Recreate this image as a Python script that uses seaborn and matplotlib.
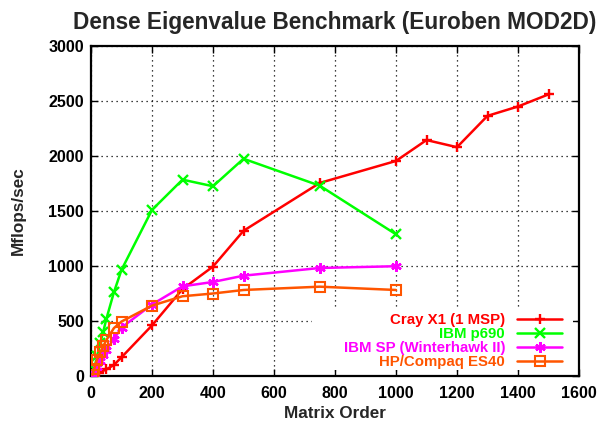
import matplotlib
matplotlib.use("Agg")
import matplotlib.pyplot as plt
from matplotlib.patches import Rectangle
import seaborn as sns
import pandas as pd

# ---- data ----
cray_x = [10, 25, 50, 75, 100, 200, 300, 400, 500, 750, 1000, 1100, 1200, 1300, 1400, 1500]
cray_y = [8, 28, 60, 100, 170, 460, 790, 995, 1320, 1755, 1955, 2145, 2080, 2365, 2450, 2560]

p690_x = [10, 20, 30, 40, 50, 75, 100, 200, 300, 400, 500, 750, 1000]
p690_y = [60, 180, 300, 400, 515, 760, 965, 1510, 1785, 1725, 1975, 1730, 1288]

sp_x = [10, 20, 30, 40, 50, 75, 100, 200, 300, 400, 500, 750, 1000]
sp_y = [20, 80, 140, 190, 240, 335, 440, 650, 815, 855, 912, 982, 998]

es40_x = [5, 10, 20, 30, 40, 50, 75, 100, 200, 300, 400, 500, 750, 1000]
es40_y = [10, 60, 150, 215, 270, 325, 435, 495, 640, 725, 750, 782, 812, 782]

series_names = ["Cray X1 (1 MSP)", "IBM p690", "IBM SP (Winterhawk II)", "HP/Compaq ES40"]
title = "Dense Eigenvalue Benchmark (Euroben MOD2D)"
xlabel = "Matrix Order"
ylabel = "Mflops/sec"
xticks = [0, 200, 400, 600, 800, 1000, 1200, 1400, 1600]
yticks = [0, 500, 1000, 1500, 2000, 2500, 3000]

# ---- style ----
sns.set_theme(style="white")
plt.rcParams["font.family"] = ["Liberation Sans", "DejaVu Sans"]
plt.rcParams["font.weight"] = "bold"

colors = ["#ff0000", "#00ff00", "#ff00ff", "#ff5500"]
markers = ["+", "x", (6, 2, 0), "s"]

W, H = 600, 421
L, R, B, T = 91, 579, 376, 46
fig = plt.figure(figsize=(W / 100, H / 100), dpi=100)
ax = fig.add_axes([L / W, 1 - B / H, (R - L) / W, (B - T) / H])

data = [(cray_x, cray_y), (p690_x, p690_y), (sp_x, sp_y), (es40_x, es40_y)]
for (xs, ys), name, c, m in zip(data, series_names, colors, markers):
    df = pd.DataFrame({"x": xs, "y": ys})
    kws = dict(markeredgecolor=c, markeredgewidth=1.7, markersize=7.5)
    if m == "s":
        kws.update(markerfacecolor="none", markersize=6.5, markeredgewidth=1.5)
    sns.lineplot(data=df, x="x", y="y", ax=ax, color=c, marker=m,
                 linewidth=1.8, label=name, zorder=3, **kws)

ax.set_xlim(0, 1600)
ax.set_ylim(0, 3000)
ax.set_xticks(xticks)
ax.set_yticks(yticks)
ax.set_xticklabels([str(t) for t in xticks], fontsize=11.5, fontweight="bold")
ax.set_yticklabels([str(t) for t in yticks], fontsize=11.5, fontweight="bold")
ax.tick_params(direction="in", length=5, width=1, top=True, right=True,
               bottom=True, left=True, colors="black")
ax.tick_params(axis="x", pad=7)
ax.tick_params(axis="y", pad=5)
ax.grid(True, linestyle=(0, (1, 3)), color="black", linewidth=0.9)
for sp in ax.spines.values():
    sp.set_color("black")
    sp.set_linewidth(1.6)

# white key area (covers grid lines, like the original key box)
pw, ph = R - L, B - T
rx0 = (312 - L) / pw
ry1 = (B - 310) / ph
ax.add_patch(Rectangle((rx0, 6 / ph), (R - 6 - 312) / pw, ry1 - 6 / ph,
                       transform=ax.transAxes, facecolor="white",
                       edgecolor="none", zorder=1))

ax.set_title(title, fontsize=16.3, fontweight="bold", pad=12)
ax.set_xlabel(xlabel, fontsize=12.3, fontweight="bold", labelpad=4)
ax.set_ylabel(ylabel, fontsize=12.3, fontweight="bold", labelpad=16)

leg = ax.legend(loc="lower right", bbox_to_anchor=((562 - L) / pw, 7 / ph),
                markerfirst=False, frameon=False,
                labelspacing=0.0, handlelength=3.0,
                handletextpad=0.8, borderaxespad=0.0, borderpad=0.0,
                prop={"weight": "bold", "size": 10.8})
for t, c in zip(leg.get_texts(), colors):
    t.set_color(c)

fig.savefig("out.png", dpi=100)
